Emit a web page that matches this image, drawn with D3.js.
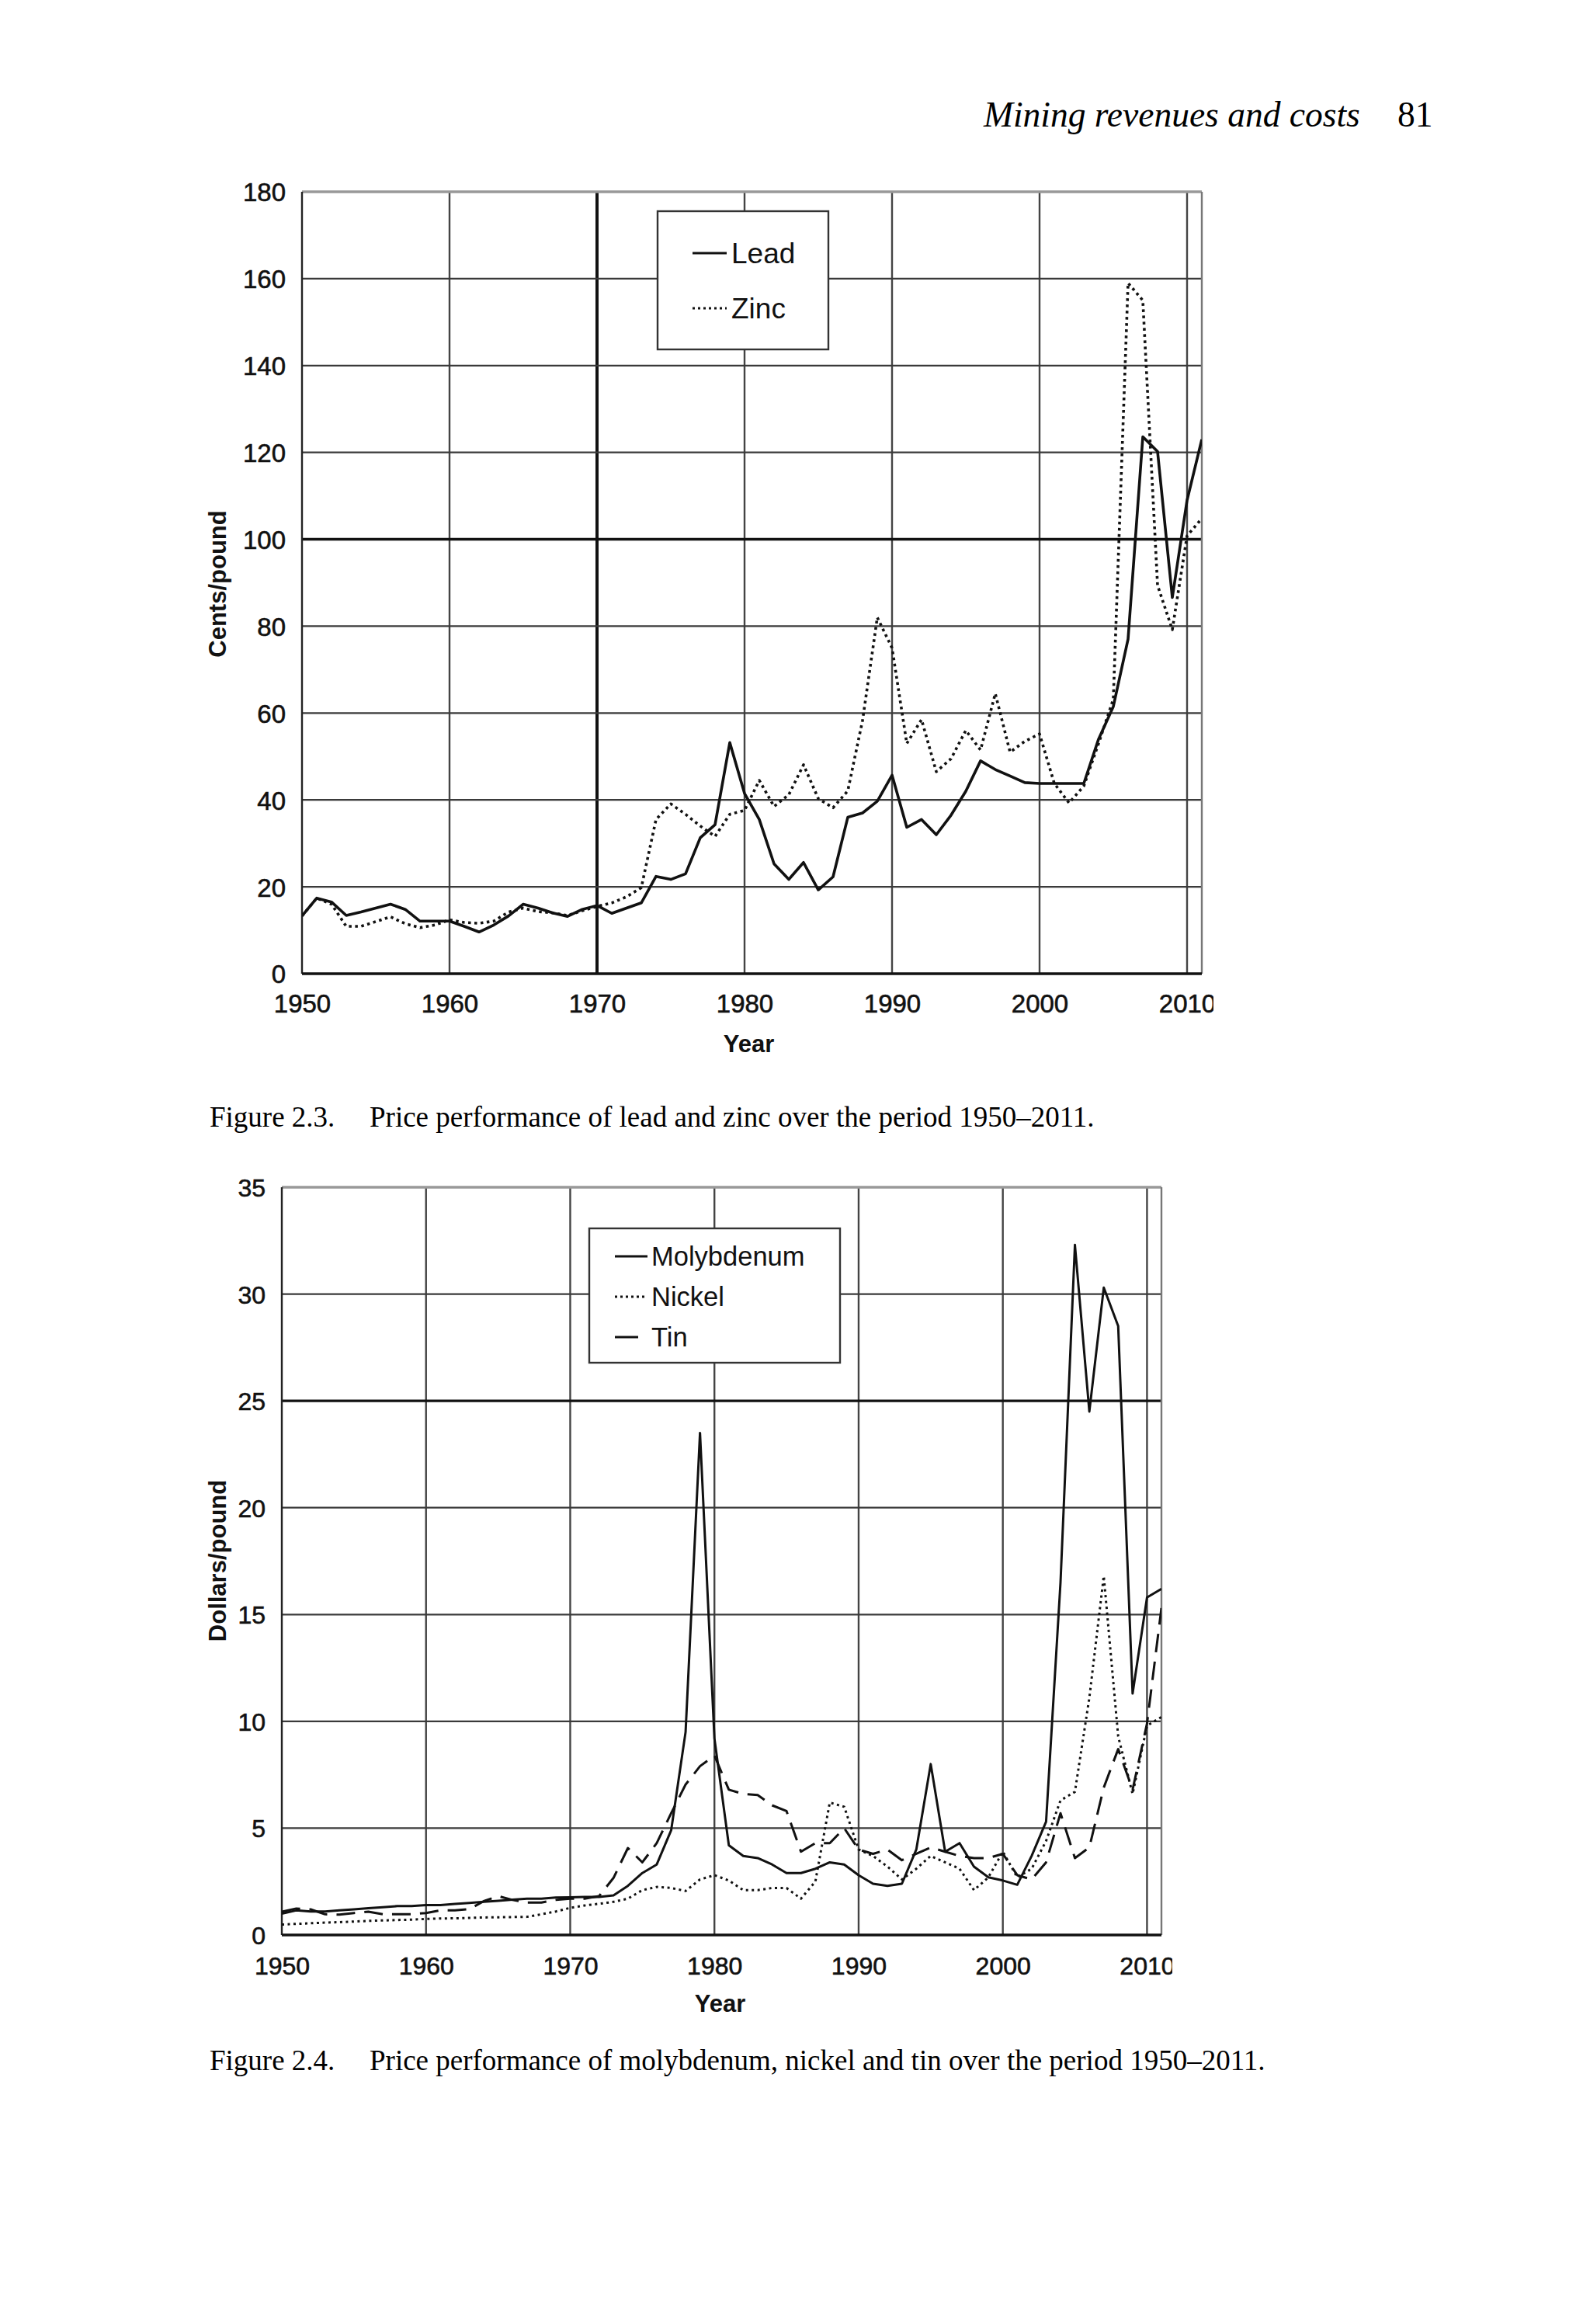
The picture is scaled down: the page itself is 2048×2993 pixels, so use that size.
<!DOCTYPE html>
<html><head><meta charset="utf-8">
<script src="https://cdn.jsdelivr.net/npm/d3@7"></script>
<style>body{margin:0;background:#fff}</style>
</head><body>
<script>
// ---------- DATA ----------
const years = d3.range(1950, 2012);
const xTickYears = [1950,1960,1970,1980,1990,2000,2010];

const leadTicks = [0,20,40,60,80,100,120,140,160,180];
const lead = [13.3,17.4,16.5,13.4,14.2,15.1,16.0,14.8,12.1,12.1,
  12.1,10.9,9.6,11.2,13.3,16.0,15.1,14.0,13.2,14.8,
  15.7,13.9,15.1,16.3,22.4,21.7,23.0,31.3,34.3,53.2,
  41.5,35.5,25.3,21.7,25.6,19.3,22.3,36.0,37.0,39.7,
  45.7,33.7,35.5,32.0,36.5,42.0,49.0,47.0,45.5,44.0,
  43.8,43.8,43.8,43.8,54.0,61.5,77.0,123.6,120.2,86.6,
  109.0,123.0];
const zinc = [13.3,17.4,16.0,10.9,10.9,12.0,13.1,11.5,10.6,11.2,
  12.4,11.8,11.6,12.1,14.2,15.1,14.3,14.0,13.4,14.5,
  15.5,16.3,17.7,19.8,35.5,39.1,36.7,34.0,31.6,36.7,
  37.6,44.5,38.5,41.2,48.1,40.3,38.2,42.1,58.3,82.0,
  75.0,53.0,58.5,46.5,49.5,56.0,51.5,64.5,51.0,53.5,
  55.2,43.8,39.3,43.2,53.0,63.2,159.0,155.0,89.4,79.2,
  100.8,104.8];

const metalTicks = [0,5,10,15,20,25,30,35];
const molybdenum = [1.0,1.15,1.1,1.1,1.15,1.2,1.25,1.3,1.35,1.35,
  1.4,1.4,1.45,1.5,1.55,1.6,1.65,1.7,1.7,1.75,
  1.76,1.78,1.78,1.85,2.3,2.9,3.3,4.9,9.5,23.5,
  9.2,4.2,3.7,3.6,3.3,2.9,2.9,3.1,3.4,3.3,
  2.8,2.4,2.3,2.4,4.0,8.0,3.9,4.3,3.2,2.7,
  2.55,2.35,3.7,5.3,16.5,32.3,24.5,30.3,28.5,11.3,
  15.8,16.2];
const nickel = [0.49,0.52,0.55,0.58,0.6,0.63,0.66,0.68,0.7,0.72,
  0.75,0.77,0.78,0.8,0.82,0.83,0.84,0.85,0.97,1.1,
  1.27,1.38,1.46,1.55,1.7,2.1,2.25,2.2,2.06,2.6,
  2.8,2.55,2.1,2.1,2.2,2.2,1.7,2.5,6.2,6.0,
  4.0,3.7,3.2,2.6,3.1,3.7,3.4,3.1,2.1,2.7,
  3.9,2.7,3.1,4.4,6.3,6.7,11.1,16.8,9.3,6.6,
  9.8,10.2];
const tin = [1.09,1.24,1.2,0.97,0.95,1.03,1.09,0.97,0.97,0.97,
  1.03,1.15,1.15,1.21,1.58,1.82,1.64,1.52,1.52,1.64,
  1.7,1.7,1.82,2.67,4.07,3.4,4.3,5.7,7.04,7.9,
  8.4,6.8,6.6,6.55,6.07,5.8,3.9,4.3,4.3,5.0,
  4.0,3.8,4.0,3.5,3.8,4.1,3.9,3.7,3.6,3.6,
  3.8,2.8,2.6,3.4,5.7,3.6,4.1,6.9,8.7,6.8,
  9.9,15.3];

// ---------- DRAW ----------
const W = 2048, H = 2993;
const sans = "'Liberation Sans', Arial, sans-serif";
const serif = "'Liberation Serif', 'Times New Roman', serif";
const svg = d3.select("body").append("svg").attr("width", W).attr("height", H)
  .style("font-family", sans);
svg.append("rect").attr("width", W).attr("height", H).attr("fill", "#fff");

svg.append("text").attr("x", 1267).attr("y", 163).attr("font-family", serif)
  .attr("font-style", "italic").attr("font-size", 45.5).text("Mining revenues and costs");
svg.append("text").attr("x", 1800).attr("y", 163).attr("font-family", serif)
  .attr("font-size", 45.5).text("81");

function caption(y, label, text) {
  svg.append("text").attr("x", 270).attr("y", y).attr("font-family", serif)
    .attr("font-size", 37).text(label);
  svg.append("text").attr("x", 476).attr("y", y).attr("font-family", serif)
    .attr("font-size", 37).text(text);
}
caption(1451, "Figure 2.3.", "Price performance of lead and zinc over the period 1950\u20132011.");
caption(2666, "Figure 2.4.", "Price performance of molybdenum, nickel and tin over the period 1950\u20132011.");

function chart(c) {
  const x = d3.scaleLinear().domain([1950, 2011]).range([c.left, c.right]);
  const y = d3.scaleLinear().domain([0, c.yMax]).range([c.bottom, c.top]);
  const g = svg.append("g");
  const defs = svg.append("defs");
  const id = "clip" + c.name;
  defs.append("clipPath").attr("id", id).append("rect")
    .attr("x", c.left).attr("y", c.top).attr("width", c.right - c.left).attr("height", c.bottom - c.top);
  const lclip = "lclip" + c.name;
  defs.append("clipPath").attr("id", lclip).append("rect")
    .attr("x", 0).attr("y", -500).attr("width", c.labelClip).attr("height", 1000);

  // grid
  g.selectAll("line.vg").data(xTickYears.slice(1)).join("line")
    .attr("x1", d => x(d)).attr("x2", d => x(d)).attr("y1", c.top).attr("y2", c.bottom)
    .attr("stroke", d => d === c.thickX ? "#111" : "#444")
    .attr("stroke-width", d => d === c.thickX ? 4 : 2.4);
  g.selectAll("line.hg").data(c.yTicks.slice(1, -1)).join("line")
    .attr("x1", c.left).attr("x2", c.right).attr("y1", d => y(d)).attr("y2", d => y(d))
    .attr("stroke", d => d === c.thickY ? "#111" : "#3a3a3a")
    .attr("stroke-width", d => d === c.thickY ? 3.4 : 2.2);
  // frame
  g.append("line").attr("x1", c.left).attr("x2", c.right).attr("y1", c.top).attr("y2", c.top)
    .attr("stroke", "#999").attr("stroke-width", 3.5);
  g.append("line").attr("x1", c.right).attr("x2", c.right).attr("y1", c.top).attr("y2", c.bottom)
    .attr("stroke", "#777").attr("stroke-width", 2.4);
  g.append("line").attr("x1", c.left).attr("x2", c.left).attr("y1", c.top).attr("y2", c.bottom)
    .attr("stroke", "#222").attr("stroke-width", 2.4);
  g.append("line").attr("x1", c.left).attr("x2", c.right).attr("y1", c.bottom).attr("y2", c.bottom)
    .attr("stroke", "#111").attr("stroke-width", 3.5);

  // axes labels
  const ya = g.append("g").attr("transform", `translate(${c.left - 21},0)`)
    .call(d3.axisLeft(y).tickValues(c.yTicks).tickSize(0).tickPadding(0));
  ya.select(".domain").remove();
  ya.selectAll("text").attr("font-size", c.fs).attr("fill", "#111")
    .attr("stroke", "#111").attr("stroke-width", 0.6)
    .attr("font-family", sans).attr("dy", "0.36em");
  const xa = g.append("g").attr("transform", `translate(0,${c.xLabelY})`).attr("clip-path", `url(#${lclip})`)
    .call(d3.axisBottom(x).tickValues(xTickYears).tickFormat(d3.format("d")).tickSize(0).tickPadding(0));
  xa.select(".domain").remove();
  xa.selectAll("text").attr("font-size", c.fs).attr("fill", "#111").attr("dy", 0)
    .attr("stroke", "#111").attr("stroke-width", 0.6)
    .attr("font-family", sans);

  g.append("text").attr("x", (c.left + c.right) / 2 + c.yearDx).attr("y", c.yearY).attr("text-anchor", "middle")
    .attr("font-weight", "bold").attr("font-size", 31).attr("fill", "#111").text("Year");
  g.append("text").attr("transform", `translate(${c.titleX},${c.titleY}) rotate(-90)`)
    .attr("text-anchor", "middle").attr("font-weight", "bold").attr("font-size", 31)
    .attr("fill", "#111").text(c.yTitle);

  // series
  const line = d3.line().x((d, i) => x(years[i])).y(d => y(d));
  c.series.forEach(s => {
    g.append("path").datum(s.values).attr("d", line).attr("fill", "none")
      .attr("stroke", "#111").attr("stroke-width", s.w).attr("stroke-dasharray", s.dash)
      .attr("stroke-linejoin", "round").attr("clip-path", `url(#${id})`);
  });

  // legend
  const L = c.legend;
  g.append("rect").attr("x", L.x).attr("y", L.y).attr("width", L.w).attr("height", L.h)
    .attr("fill", "#fff").attr("stroke", "#333").attr("stroke-width", 2.4);
  c.series.forEach((s, i) => {
    const cy = L.y + L.first + i * L.step;
    g.append("line").attr("x1", L.x + L.sx).attr("x2", L.x + L.sx + s.sample).attr("y1", cy).attr("y2", cy)
      .attr("stroke", "#111").attr("stroke-width", 3).attr("stroke-dasharray", s.legendDash);
    g.append("text").attr("x", L.x + L.tx).attr("y", cy).attr("dy", "0.36em")
      .attr("font-size", L.fs).attr("fill", "#111").text(s.name);
  });
}

chart({
  name: "a", left: 389, right: 1548, top: 247, bottom: 1254, yMax: 180,
  yTicks: leadTicks, thickY: 100, thickX: 1970, fs: 33, xLabelY: 1304, labelClip: 1563,
  yearY: 1355, yearDx: -4, yTitle: "Cents/pound", titleX: 291, titleY: 752,
  series: [
    {name: "Lead", values: lead, w: 3.6, dash: null, sample: 44, legendDash: null},
    {name: "Zinc", values: zinc, w: 3.6, dash: "3.5,4.5", sample: 44, legendDash: "3,4"}
  ],
  legend: {x: 847, y: 272, w: 220, h: 178, first: 54, step: 71, sx: 45, tx: 95, fs: 37}
});

chart({
  name: "b", left: 363, right: 1496, top: 1529, bottom: 2492, yMax: 35,
  yTicks: metalTicks, thickY: 25, thickX: null, fs: 32, xLabelY: 2543, labelClip: 1510,
  yearY: 2591, yearDx: -2, yTitle: "Dollars/pound", titleX: 291, titleY: 2010,
  series: [
    {name: "Molybdenum", values: molybdenum, w: 3, dash: null, sample: 42, legendDash: null},
    {name: "Nickel", values: nickel, w: 3, dash: "3,4.5", sample: 38, legendDash: "3,4"},
    {name: "Tin", values: tin, w: 3, dash: "24,12", sample: 30, legendDash: null}
  ],
  legend: {x: 759, y: 1582, w: 323, h: 173, first: 36, step: 52, sx: 33, tx: 80, fs: 34.5}
});
</script>
</body></html>
